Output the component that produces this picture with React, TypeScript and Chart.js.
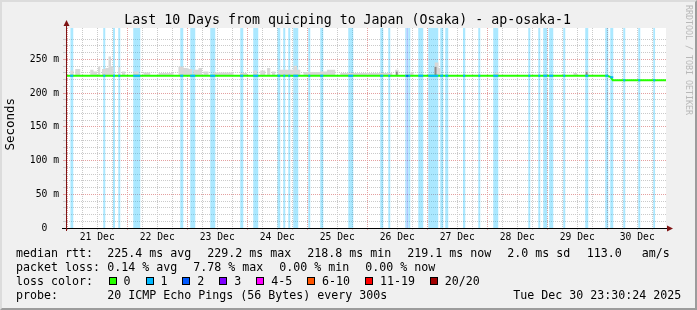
import React, { useEffect, useRef } from 'react';
import { Chart, registerables } from 'chart.js';

Chart.register(...registerables);

const MONO = '"DejaVu Sans Mono", monospace';

// ---------- data ----------
const TITLE = 'Last 10 Days from quicping to Japan (Osaka) - ap-osaka-1';
const Y_TITLE = 'Seconds';
const DAY_LABELS = ['21 Dec', '22 Dec', '23 Dec', '24 Dec', '25 Dec', '26 Dec', '27 Dec', '28 Dec', '29 Dec', '30 Dec'];
// x axis: hours since 21 Dec 00:00
const X_MIN = -0.5;
const X_MAX = 239.5;
const Y_MIN = 0;
const Y_MAX = 296.3; // ms

const MEDIAN_HOURS = [-0.5, 216.0, 217.4, 218.2, 239.5];
const MEDIAN_MS = [225.4, 225.4, 223.5, 219.0, 219.0];

const LOSS1_START = [1.2, 14.4, 18.3, 20.4, 26.4, 45.2, 49.2, 57.2, 69.2, 74.4, 84.1, 86.4, 88.4, 90.4, 96.4, 101.2, 112.4, 125.2, 128.4, 135.2, 136.4, 140.4, 144.4, 149.2, 151.2, 158.3, 164.4, 170.4, 184.4, 188.4, 190.4, 192.8, 198.4, 207.2, 215.2, 217.2, 222.4, 228.4, 234.4];
const LOSS1_END = [2.4, 15.2, 19.1, 21.2, 29.2, 46.4, 51.2, 59.2, 70.4, 76.4, 85.2, 87.2, 89.2, 92.4, 97.2, 102.4, 114.4, 126.4, 129.2, 135.6, 137.2, 142.4, 148.4, 150.4, 152.4, 159.2, 165.2, 172.4, 185.2, 189.2, 192.0, 194.4, 199.2, 208.4, 216.4, 218.4, 223.2, 229.2, 235.2];
const LOSS2_START = [135.6];
const LOSS2_END = [136.4];

const SMOKE_START = [1.2, 3.2, 9.2, 10.5, 12.3, 13.9, 15.2, 16.5, 17.5, 20.5, 21.9, 26.5, 30.5, 36.5, 44.5, 46.5, 48.5, 50.5, 52.5, 54.5, 58.5, 69.2, 74.5, 77.2, 79.9, 81.9, 84.5, 90.5, 91.9, 94.5, 101.2, 103.9, 109.2, 131.2, 137.2, 147.0, 148.5, 171.2, 202.5, 207.2];
const SMOKE_END = [2.5, 5.2, 10.5, 11.9, 13.2, 15.2, 16.5, 17.5, 18.5, 21.2, 23.2, 28.5, 33.2, 42.5, 46.5, 48.5, 49.9, 52.5, 53.9, 56.5, 66.5, 71.9, 75.9, 79.2, 81.2, 83.2, 90.5, 91.9, 93.2, 101.2, 103.9, 107.2, 130.0, 132.5, 138.5, 148.5, 149.2, 172.5, 203.9, 208.5];
const SMOKE_TOP = [233.5, 235.5, 234.5, 232.0, 239.4, 235.5, 237.0, 254.0, 239.4, 238.0, 232.0, 232.0, 230.5, 229.6, 239.4, 237.0, 235.5, 234.5, 237.0, 232.0, 230.5, 229.6, 233.5, 233.5, 237.0, 232.0, 234.5, 240.4, 234.5, 231.0, 232.0, 234.5, 229.5, 234.5, 230.5, 245.3, 237.0, 230.5, 229.6, 233.5];

const DARK_SMOKE_START = [131.4, 146.9, 207.4];
const DARK_SMOKE_END = [132.2, 147.7, 208.2];
const DARK_SMOKE_TOP = [231.5, 239.0, 231.0];

const LOSS_LABELS = ['0', '1', '2', '3', '4-5', '6-10', '11-19', '20/20'];
const LOSS_COLORS = ['#26ff00', '#00b8ff', '#0059ff', '#7e00ff', '#ff00ff', '#ff5500', '#ff0000', '#a10000'];

const RTT_LABEL = 'median rtt:';
const RTT_STATS = ['225.4 ms avg', '229.2 ms max', '218.8 ms min', '219.1 ms now', '2.0 ms sd', '113.0', 'am/s'];
const LOSS_LABEL = 'packet loss:';
const LOSS_STATS = ['0.14 % avg', '7.78 % max', '0.00 % min', '0.00 % now'];
const LOSSCOLOR_LABEL = 'loss color:';
const PROBE_LABEL = 'probe:';
const PROBE_TEXT = '20 ICMP Echo Pings (56 Bytes) every 300s';
const TIMESTAMP = 'Tue Dec 30 23:30:24 2025';
const WATERMARK = 'RRDTOOL / TOBI OETIKER';

// ---------- layout (not data) ----------
const RTT_X = [107.3, 207.3, 307.3, 407.3, 507.3, 586.7, 641.7];
const LOSS_X = [107.3, 193.3, 279.3, 365.3];
const LEG_SIZE = 11.63;
const ROW_BASE = [258.3, 272.3, 286.3, 300.3];

const MAJOR_GRID = '#e4a0a0';
const MINOR_GRID = '#cacaca';
const ARROW = '#7f1414';

// ---------- helpers ----------
function blocks(starts: number[], ends: number[], tops: number[] | number, base: number) {
  const pts: { x: number; y: number }[] = [];
  starts.forEach((s, i) => {
    const top = Array.isArray(tops) ? tops[i] : tops;
    pts.push({ x: s, y: top });
    pts.push({ x: ends[i], y: base });
  });
  return pts;
}

function medianAt(t: number) {
  let v = MEDIAN_MS[0];
  for (let i = 0; i < MEDIAN_HOURS.length; i++) if (MEDIAN_HOURS[i] <= t) v = MEDIAN_MS[i];
  return v;
}

function lossLine(starts: number[], ends: number[]) {
  const pts: { x: number; y: number | null }[] = [];
  starts.forEach((s, i) => {
    const m = medianAt((s + ends[i]) / 2);
    pts.push({ x: s, y: m });
    pts.push({ x: ends[i], y: m });
    pts.push({ x: ends[i], y: null });
  });
  return pts;
}

function Txt(props: { x: number; base: number; size: number; color?: string; children: React.ReactNode }) {
  const { x, base, size, color, children } = props;
  return (
    <div
      style={{
        position: 'absolute',
        left: x,
        top: base - 0.846 * size,
        fontFamily: MONO,
        fontSize: size,
        lineHeight: `${size}px`,
        whiteSpace: 'pre',
        color: color || '#000',
      }}
    >
      {children}
    </div>
  );
}

const bgPlugin = {
  id: 'canvasBg',
  beforeDraw(chart: any) {
    const { ctx, chartArea: a } = chart;
    ctx.save();
    ctx.fillStyle = '#ffffff';
    ctx.fillRect(a.left, a.top, a.right - a.left, a.bottom - a.top);
    ctx.restore();
  },
};

const arrowPlugin = {
  id: 'axisArrows',
  afterDraw(chart: any) {
    const { ctx, chartArea: a } = chart;
    ctx.save();
    const x0 = Math.round(a.left) + 0.5;
    const y0 = Math.round(a.bottom) + 0.5;
    ctx.lineWidth = 1;
    ctx.strokeStyle = '#000';
    ctx.beginPath();
    ctx.moveTo(a.left - 4, y0);
    ctx.lineTo(a.right + 2, y0);
    ctx.stroke();
    ctx.strokeStyle = ARROW;
    ctx.beginPath();
    ctx.moveTo(x0, a.bottom + 3);
    ctx.lineTo(x0, a.top - 4);
    ctx.stroke();
    ctx.fillStyle = ARROW;
    ctx.beginPath();
    ctx.moveTo(x0 - 3, a.top - 2);
    ctx.lineTo(x0 + 3, a.top - 2);
    ctx.lineTo(x0, a.top - 8);
    ctx.closePath();
    ctx.fill();
    ctx.beginPath();
    ctx.moveTo(a.right + 1, y0 - 3);
    ctx.lineTo(a.right + 1, y0 + 3);
    ctx.lineTo(a.right + 7, y0);
    ctx.closePath();
    ctx.fill();
    ctx.restore();
  },
};

export default function App() {
  const ref = useRef<HTMLCanvasElement>(null);

  useEffect(() => {
    const base = MEDIAN_MS[0];
    const chart = new Chart(ref.current as HTMLCanvasElement, {
      type: 'line',
      data: {
        datasets: [
          {
            label: 'loss 2',
            data: lossLine(LOSS2_START, LOSS2_END),
            borderColor: LOSS_COLORS[2],
            borderWidth: 2,
            pointRadius: 0,
            fill: false,
            order: 1,
          },
          {
            label: 'loss 1',
            data: lossLine(LOSS1_START, LOSS1_END),
            borderColor: LOSS_COLORS[1],
            borderWidth: 2,
            pointRadius: 0,
            fill: false,
            order: 2,
          },
          {
            label: 'median rtt',
            data: MEDIAN_HOURS.map((h, i) => ({ x: h, y: MEDIAN_MS[i] })),
            borderColor: LOSS_COLORS[0],
            borderWidth: 2,
            pointRadius: 0,
            fill: false,
            order: 3,
          },
          {
            label: 'dark smoke',
            data: blocks(DARK_SMOKE_START, DARK_SMOKE_END, DARK_SMOKE_TOP, base),
            stepped: 'before',
            borderWidth: 0,
            borderColor: 'rgba(0,0,0,0)',
            backgroundColor: '#8c8c8c',
            pointRadius: 0,
            fill: { value: base },
            order: 4,
          },
          {
            label: 'smoke',
            data: blocks(SMOKE_START, SMOKE_END, SMOKE_TOP, base),
            stepped: 'before',
            borderWidth: 0,
            borderColor: 'rgba(0,0,0,0)',
            backgroundColor: '#d8d8d8',
            pointRadius: 0,
            fill: { value: base },
            order: 5,
          },
          {
            label: 'loss 2 band',
            data: blocks(LOSS2_START, LOSS2_END, Y_MAX, Y_MIN),
            stepped: 'before',
            borderWidth: 0,
            borderColor: 'rgba(0,0,0,0)',
            backgroundColor: 'rgba(0,89,255,0.32)',
            pointRadius: 0,
            fill: 'origin',
            order: 6,
          },
          {
            label: 'loss 1 band',
            data: blocks(LOSS1_START, LOSS1_END, Y_MAX, Y_MIN),
            stepped: 'before',
            borderWidth: 0,
            borderColor: 'rgba(0,0,0,0)',
            backgroundColor: 'rgba(0,184,255,0.33)',
            pointRadius: 0,
            fill: 'origin',
            order: 7,
          },
        ],
      },
      options: {
        responsive: false,
        animation: false,
        devicePixelRatio: 1,
        events: [],
        layout: { padding: { left: 0, right: 31, top: 28, bottom: 0 } },
        plugins: {
          legend: { display: false },
          tooltip: { enabled: false },
          title: { display: false },
        },
        scales: {
          x: {
            type: 'linear',
            min: X_MIN,
            max: X_MAX,
            afterBuildTicks: (s: any) => {
              const t: { value: number }[] = [];
              for (let v = Math.ceil(X_MIN / 6) * 6; v <= X_MAX; v += 6) t.push({ value: v });
              s.ticks = t;
            },
            afterFit: (s: any) => {
              s.height = 82;
            },
            ticks: {
              autoSkip: false,
              maxRotation: 0,
              minRotation: 0,
              padding: 2,
              color: '#000',
              font: { family: MONO, size: 9.7 },
              callback: (v: any) => {
                const n = Number(v);
                if ((n - 12) % 24 === 0) return DAY_LABELS[(n - 12) / 24] ?? '';
                return '';
              },
            },
            grid: {
              color: (c: any) => (c.tick && c.tick.value % 24 === 0 ? MAJOR_GRID : MINOR_GRID),
              tickColor: (c: any) => (c.tick && c.tick.value % 24 === 0 ? MAJOR_GRID : MINOR_GRID),
              lineWidth: 1,
              tickLength: 2,
            },
            border: { display: true, color: '#000', width: 1, dash: [1, 1] },
          },
          y: {
            type: 'linear',
            min: Y_MIN,
            max: Y_MAX,
            afterBuildTicks: (s: any) => {
              s.ticks = s.ticks.filter((t: any) => Math.abs(t.value % 10) < 1e-9);
            },
            afterFit: (s: any) => {
              s.width = 66;
            },
            ticks: {
              stepSize: 10,
              autoSkip: false,
              padding: 4,
              color: '#000',
              font: { family: MONO, size: 9.7 },
              callback: (v: any) => {
                const n = Math.round(Number(v));
                if (n % 50 !== 0) return '';
                return n === 0 ? '0  ' : `${n} m`;
              },
            },
            grid: {
              color: (c: any) => (c.tick && Math.round(c.tick.value) % 50 === 0 ? MAJOR_GRID : MINOR_GRID),
              tickColor: (c: any) => (c.tick && Math.round(c.tick.value) % 50 === 0 ? MAJOR_GRID : MINOR_GRID),
              lineWidth: 1,
              tickLength: 3,
            },
            border: { display: true, color: ARROW, width: 1, dash: [1, 1] },
            title: {
              display: true,
              text: ' ' + Y_TITLE,
              color: '#000',
              font: { family: MONO, size: 12.5 },
              padding: { top: 3, bottom: 0 },
            },
          },
        },
      },
      plugins: [bgPlugin, arrowPlugin],
    } as any);
    return () => chart.destroy();
  }, []);

  return (
    <div
      style={{
        position: 'fixed',
        left: 0,
        top: 0,
        width: 697,
        height: 310,
        background: '#f0f0f0',
        overflow: 'hidden',
      }}
    >
      <canvas ref={ref} width={697} height={310} style={{ position: 'absolute', left: 0, top: 0, width: 697, height: 310 }} />
      <Txt x={124.3} base={24} size={13.25}>{TITLE}</Txt>

      <Txt x={16} base={ROW_BASE[0]} size={LEG_SIZE}>{RTT_LABEL}</Txt>
      {RTT_STATS.map((s, i) => (
        <Txt key={'r' + i} x={RTT_X[i]} base={ROW_BASE[0]} size={LEG_SIZE}>{s}</Txt>
      ))}

      <Txt x={16} base={ROW_BASE[1]} size={LEG_SIZE}>{LOSS_LABEL}</Txt>
      {LOSS_STATS.map((s, i) => (
        <Txt key={'l' + i} x={LOSS_X[i]} base={ROW_BASE[1]} size={LEG_SIZE}>{s}</Txt>
      ))}

      <Txt x={16} base={ROW_BASE[2]} size={LEG_SIZE}>{LOSSCOLOR_LABEL}</Txt>
      <Txt x={108.7} base={ROW_BASE[2]} size={LEG_SIZE}>
        {LOSS_LABELS.map((lab, i) => (
          <React.Fragment key={lab}>
            <span
              style={{
                display: 'inline-block',
                width: 8,
                height: 8,
                boxSizing: 'border-box',
                border: '1px solid #000',
                background: LOSS_COLORS[i],
                marginRight: 6.9,
              }}
            />
            <span style={{ marginRight: 15 }}>{lab}</span>
          </React.Fragment>
        ))}
      </Txt>

      <Txt x={16} base={ROW_BASE[3]} size={LEG_SIZE}>{PROBE_LABEL}</Txt>
      <Txt x={107.3} base={ROW_BASE[3]} size={LEG_SIZE}>{PROBE_TEXT}</Txt>
      <Txt x={513.3} base={ROW_BASE[3]} size={LEG_SIZE}>{TIMESTAMP}</Txt>

      <div
        style={{
          position: 'absolute',
          left: 685,
          top: 5,
          writingMode: 'vertical-rl',
          fontFamily: MONO,
          fontSize: 8.3,
          lineHeight: '8px',
          color: '#b8b8b8',
          whiteSpace: 'pre',
        }}
      >
        {WATERMARK}
      </div>

      <div
        style={{
          position: 'absolute',
          left: 0,
          top: 0,
          width: 697,
          height: 310,
          boxSizing: 'border-box',
          borderTop: '2px solid #dcdcdc',
          borderLeft: '2px solid #dcdcdc',
          borderBottom: '2px solid #9c9c9c',
          borderRight: '2px solid #9c9c9c',
          pointerEvents: 'none',
        }}
      />
    </div>
  );
}
